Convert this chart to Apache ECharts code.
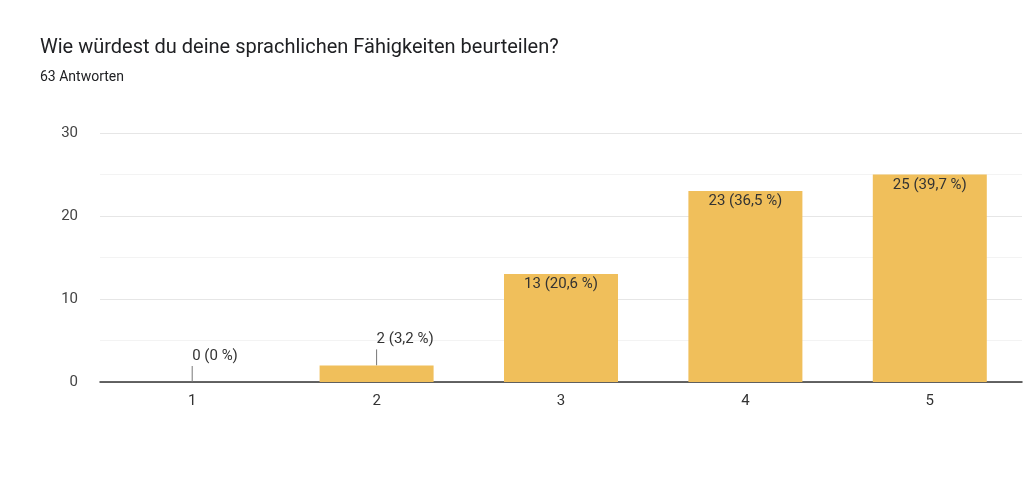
<!DOCTYPE html>
<html><head><meta charset="utf-8">
<script src="https://cdn.jsdelivr.net/npm/echarts@6/dist/echarts.min.js"></script>
<style>html,body{margin:0;background:#fff}#c{width:1024px;height:487px}</style>
</head><body><div id="c"></div>
<script>
// ── data ──
const categories = ["1", "2", "3", "4", "5"];
const counts = [0, 2, 13, 23, 25];
const pctLabels = ["0 %", "3,2 %", "20,6 %", "36,5 %", "39,7 %"];
const yTicks = [0, 10, 20, 30];

const FONT = "Roboto, 'Noto Sans', sans-serif";
const labelText = (i) => counts[i] + " (" + pctLabels[i] + ")";
const small = (v) => v < 5; // label sits above with a leader tick

const chart = echarts.init(document.getElementById("c"));
chart.setOption({
  animation: false,
  title: {
    text: "Wie würdest du deine sprachlichen Fähigkeiten beurteilen?",
    subtext: "63 Antworten",
    left: 35, top: 33, itemGap: 12,
    textStyle: { fontFamily: FONT, fontSize: 20, fontWeight: "normal", color: "#202124" },
    subtextStyle: { fontFamily: FONT, fontSize: 14, color: "#202124" },
  },
  grid: { left: 100, right: 2, top: 133, bottom: 105 },
  xAxis: {
    type: "category", data: categories,
    axisLine: { lineStyle: { color: "#333", width: 1.5 } },
    axisTick: { show: false },
    axisLabel: { fontFamily: FONT, fontSize: 15, color: "#333", margin: 12 },
  },
  yAxis: {
    type: "value", min: 0, max: 30, interval: 10,
    axisLabel: { fontFamily: FONT, fontSize: 15, color: "#444", margin: 22,
      formatter: (v) => yTicks.includes(v) ? v : "" },
    splitLine: { lineStyle: { color: "#e6e6e6" } },
    minorTick: { show: false, splitNumber: 2 },
    minorSplitLine: { show: true, lineStyle: { color: "#f3f3f3" } },
  },
  series: [
    {
      type: "bar", data: counts, barWidth: 114,
      itemStyle: { color: "#f0bf5b" },
      label: {
        show: true, fontFamily: FONT, fontSize: 15, color: "#333",
        formatter: (p) => labelText(p.dataIndex),
        position: "insideTop", distance: 3,
      },
      labelLayout: (p) => small(counts[p.dataIndex])
        ? { y: p.rect.y - 26, verticalAlign: "middle" } : {},
    },
    {
      // leader ticks for labels above short bars
      type: "custom", silent: true,
      data: counts.map((v, i) => [i, v]).filter((d) => small(d[1])),
      renderItem: (params, api) => {
        const p = api.coord([api.value(0), api.value(1)]);
        return { type: "line", shape: { x1: p[0], y1: p[1], x2: p[0], y2: p[1] - 16 },
          style: { stroke: "#777", lineWidth: 1 } };
      },
    },
  ],
});
</script></body></html>
